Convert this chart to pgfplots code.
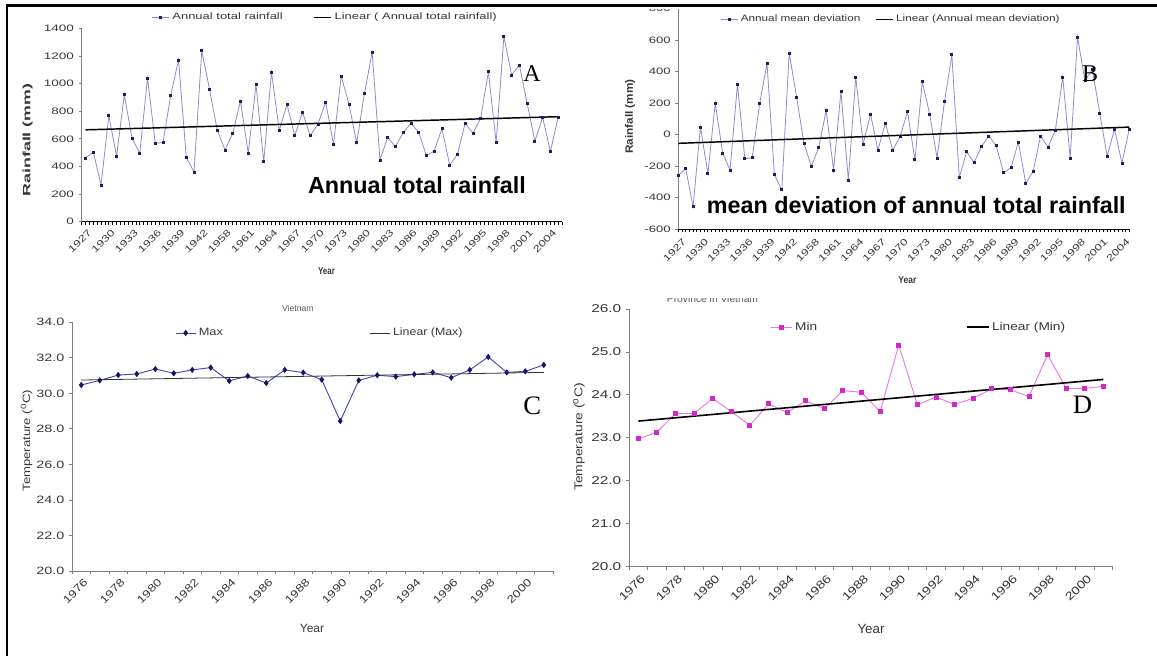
\documentclass[border=0pt]{standalone}
\usepackage{pgfplots}
\usepackage{pgfplotstable}
\pgfplotsset{compat=1.18}
\usepackage{fontspec}
\setmainfont{Liberation Sans}
\newfontfamily\seriffont{Liberation Serif}
\usepackage{graphicx}

\definecolor{lav}{RGB}{140,140,205}
\definecolor{navy}{RGB}{30,30,95}
\definecolor{cline}{RGB}{70,70,175}
\definecolor{cmark}{RGB}{20,20,110}
\definecolor{dline}{RGB}{235,120,225}
\definecolor{dmark}{RGB}{210,40,200}
\definecolor{axgray}{RGB}{128,128,128}
\definecolor{txt}{RGB}{55,55,55}

\newcommand{\fs}[1]{\fontsize{#1}{#1}\selectfont}
\newcommand{\xa}[1]{\scalebox{1.35}[1]{#1}}
\newcommand{\xc}[1]{\scalebox{1.25}[1]{#1}}

% Panel A: annual total rainfall (mm), 62 years
\pgfplotstableread[row sep=\\]{v\\461\\504\\266\\768\\473\\920\\603\\495\\1040\\567\\574\\917\\1171\\465\\360\\1238\\958\\664\\519\\640\\874\\495\\994\\433\\1084\\660\\850\\622\\792\\622\\707\\866\\560\\1055\\850\\572\\929\\1226\\447\\611\\543\\644\\712\\649\\478\\512\\673\\410\\488\\712\\640\\748\\1086\\572\\1339\\1062\\1134\\857\\584\\756\\507\\756\\}\tabA
% Panel B: mean deviation (mm)
\pgfplotstableread[row sep=\\]{v\\-259\\-216\\-454\\48\\-247\\200\\-117\\-225\\320\\-153\\-146\\197\\451\\-255\\-350\\518\\238\\-56\\-201\\-80\\154\\-225\\274\\-287\\364\\-60\\130\\-98\\72\\-98\\-13\\146\\-160\\335\\130\\-148\\209\\506\\-273\\-109\\-177\\-76\\-8\\-71\\-242\\-208\\-47\\-310\\-232\\-8\\-80\\28\\366\\-148\\619\\342\\414\\137\\-136\\36\\-180\\36\\}\tabB
% Panel C: Max temperature
\pgfplotstableread[row sep=\\]{v\\30.47\\30.73\\31.03\\31.09\\31.37\\31.13\\31.32\\31.45\\30.70\\30.98\\30.58\\31.32\\31.17\\30.77\\28.44\\30.73\\31.02\\30.94\\31.07\\31.18\\30.88\\31.32\\32.05\\31.18\\31.24\\31.60\\}\tabC
% Panel D: Min temperature
\pgfplotstableread[row sep=\\]{v\\22.98\\23.13\\23.57\\23.57\\23.92\\23.61\\23.29\\23.79\\23.59\\23.86\\23.68\\24.10\\24.06\\23.61\\25.16\\23.77\\23.95\\23.78\\23.92\\24.14\\24.12\\23.96\\24.94\\24.15\\24.15\\24.20\\}\tabD

\pgfplotsset{
  base/.style={scale only axis, anchor=south west,
    axis x line*=bottom, axis y line*=left,
    axis line style={axgray, line width=0.6pt},
    tick align=outside,
    major tick length=2.25pt, minor tick length=2.25pt,
    tick style={axgray, line width=0.6pt},
    /pgf/number format/assume math mode=true,
    ticklabel style={text=txt},
    major x tick style={draw=none},
    legend style={draw=none, fill=none, inner sep=0pt, anchor=west, text=txt},
    legend columns=2,
    legend cell align=left,
    clip=false,
  },
}

\begin{document}
\begin{tikzpicture}
\useasboundingbox (0pt,0pt) rectangle (867.75pt,492pt);

% ---------------- Panel A ----------------
\begin{axis}[base, at={(61.275pt,325.725pt)}, width=360.225pt, height=145.05pt,
  xmin=-0.5, xmax=61.5, ymin=0, ymax=1400,
  ytick={0,200,...,1400},
  yticklabel={\scalebox{1.45}[1]{\fs{7}\pgfmathprintnumber[1000 sep={}]{\tick}}},
  xtick={0,3,...,60},
  xticklabels={\xa{1927},\xa{1930},\xa{1933},\xa{1936},\xa{1939},\xa{1942},\xa{1958},\xa{1961},\xa{1964},\xa{1967},\xa{1970},\xa{1973},\xa{1980},\xa{1983},\xa{1986},\xa{1989},\xa{1992},\xa{1995},\xa{1998},\xa{2001},\xa{2004}},
  minor xtick={-0.5,0,...,61.5},
  x axis line style={black, line width=0.9pt},
  minor x tick style={black, line width=0.6pt},
  xticklabel style={rotate=45, anchor=north east, font=\fs{7}, inner sep=1pt, yshift=-2pt},
  legend style={at={(0.1457,1.057)}, font=\fs{7}, /tikz/every even column/.append style={column sep=21pt}},
  legend image code/.code={\draw[mark repeat=2,mark phase=2,#1] plot coordinates {(0pt,0pt) (6.4pt,0pt) (12.75pt,0pt)};},
]
\addplot[lav, line width=0.6pt, mark=square*, mark size=0.75pt, mark options={navy, fill=navy}] table[x expr=\coordindex, y=v] {\tabA};
\addlegendentry{\scalebox{1.39}[1]{Annual total rainfall}}
\addplot[black, line width=1.1pt] coordinates {(0,665) (61,760)};
\addlegendentry{\scalebox{1.39}[1]{Linear ( Annual total rainfall)}}
\end{axis}

% ---------------- Panel B ----------------
\begin{axis}[base, at={(508.725pt,320.025pt)}, width=338.25pt, height=165.6pt,
  xmin=0, xmax=61, ymin=-600, ymax=800,
  ytick={-600,-400,...,800},
  yticklabel={\scalebox{1.4}[1]{\fs{7}\pgfmathprintnumber{\tick}}},
  xtick={0,3,...,60},
  xticklabels={\xa{1927},\xa{1930},\xa{1933},\xa{1936},\xa{1939},\xa{1942},\xa{1958},\xa{1961},\xa{1964},\xa{1967},\xa{1970},\xa{1973},\xa{1980},\xa{1983},\xa{1986},\xa{1989},\xa{1992},\xa{1995},\xa{1998},\xa{2001},\xa{2004}},
  minor xtick={0,0.5,...,61},
  x axis line style={black, line width=0.9pt},
  minor x tick style={black, line width=0.6pt},
  xticklabel style={rotate=45, anchor=north east, font=\fs{7}, inner sep=1pt, yshift=-4pt},
  legend style={at={(0.0925,0.951)}, font=\fs{7}, /tikz/every even column/.append style={column sep=9pt}},
  legend image code/.code={\draw[mark repeat=2,mark phase=2,#1] plot coordinates {(0pt,0pt) (6.4pt,0pt) (12.75pt,0pt)};},
]
\addplot[lav, line width=0.6pt, mark=square*, mark size=0.75pt, mark options={navy, fill=navy}] table[x expr=\coordindex, y=v] {\tabB};
\addlegendentry{\scalebox{1.26}[1]{Annual mean deviation}}
\addplot[black, line width=1.1pt] coordinates {(0,-55) (61,48)};
\addlegendentry{\scalebox{1.26}[1]{Linear (Annual mean deviation)}}
\end{axis}

% ---------------- Panel C ----------------
\begin{axis}[base, at={(54pt,63.75pt)}, width=360.75pt, height=186.525pt,
  xmin=-0.5, xmax=25.5, ymin=20, ymax=34,
  ytick={20,22,...,34},
  yticklabel={\scalebox{1.35}[1]{\fs{8}\pgfmathprintnumber[fixed,fixed zerofill,precision=1]{\tick}}},
  xtick={0,2,...,24},
  xticklabels={\xc{1976},\xc{1978},\xc{1980},\xc{1982},\xc{1984},\xc{1986},\xc{1988},\xc{1990},\xc{1992},\xc{1994},\xc{1996},\xc{1998},\xc{2000}},
  minor xtick={-0.5,0.5,...,25.5},
  xticklabel style={rotate=45, anchor=north east, font=\fs{8}, inner sep=1pt, yshift=-2pt},
  legend style={at={(0.214,0.957)}, font=\fs{8}, /tikz/every even column/.append style={column sep=108pt}},
  legend image code/.code={\draw[mark repeat=2,mark phase=2,#1] plot coordinates {(0pt,0pt) (7.5pt,0pt) (15pt,0pt)};},
]
\addplot[cline, line width=0.7pt, mark=diamond*, mark size=1.8pt, mark options={cmark, fill=cmark}] table[x expr=\coordindex, y=v] {\tabC};
\addlegendentry{\scalebox{1.2}[1]{Max}}
\addplot[black!80, line width=0.6pt] coordinates {(0,30.75) (25,31.18)};
\addlegendentry{\scalebox{1.16}[1]{Linear (Max)}}
\end{axis}

% ---------------- Panel D ----------------
\begin{axis}[base, at={(471.75pt,66.975pt)}, width=362.775pt, height=193.275pt,
  xmin=-0.5, xmax=25.5, ymin=20, ymax=26,
  ytick={20,21,...,26},
  yticklabel={\scalebox{1.36}[1]{\fs{8.5}\pgfmathprintnumber[fixed,fixed zerofill,precision=1]{\tick}}},
  xtick={0,2,...,24},
  xticklabels={\xc{1976},\xc{1978},\xc{1980},\xc{1982},\xc{1984},\xc{1986},\xc{1988},\xc{1990},\xc{1992},\xc{1994},\xc{1996},\xc{1998},\xc{2000}},
  minor xtick={-0.5,0.5,...,25.5},
  xticklabel style={rotate=45, anchor=north east, font=\fs{8.5}, inner sep=1pt, yshift=-2pt, text=black!80},
  legend style={at={(0.2915,0.929)}, font=\fs{8.5}, /tikz/every even column/.append style={column sep=110pt}},
  legend image code/.code={\draw[mark repeat=2,mark phase=2,#1] plot coordinates {(0pt,0pt) (8pt,0pt) (16pt,0pt)};},
]
\addplot[dline, line width=0.7pt, mark=square*, mark size=1.5pt, mark options={dmark, fill=dmark}] table[x expr=\coordindex, y=v] {\tabD};
\addlegendentry{\scalebox{1.2}[1]{Min}}
\addplot[black, line width=1.2pt] coordinates {(0,23.39) (25,24.36)};
\addlegendentry{\scalebox{1.21}[1]{Linear (Min)}}
\end{axis}

% ---------------- Texts ----------------
\node[anchor=base west, inner sep=0pt, font=\bfseries\fs{17.5}] at (230.8pt,347.0pt) {Annual total rainfall};
\node[anchor=base west, inner sep=0pt, font=\seriffont\fs{18}] at (392.25pt,430.5pt) {A};
\node[rotate=90, inner sep=0pt, font=\bfseries\fs{8}, text=txt] at (20.8pt,387pt) {\scalebox{1.67}[1]{Rainfall (mm)}};
\node[inner sep=0pt, font=\bfseries\fs{7.5}, text=txt] at (244.9pt,289pt) {\scalebox{0.8}[1]{Year}};

\node[anchor=base west, inner sep=0pt, font=\bfseries\fs{17.5}] at (530.0pt,332.0pt) {mean deviation of annual total rainfall};
\node[anchor=base west, inner sep=0pt, font=\seriffont\fs{18}] at (811.3pt,430.5pt) {B};
\node[rotate=90, inner sep=0pt, font=\bfseries\fs{8}, text=txt] at (472.5pt,404.6pt) {\scalebox{1.1}[1]{Rainfall (mm)}};
\node[inner sep=0pt, font=\bfseries\fs{7.5}, text=txt] at (680.6pt,282pt) {\scalebox{0.85}[1]{Year}};

\node[rotate=90, inner sep=0pt, font=\fs{8}, text=txt] at (20pt,161.5pt) {\scalebox{1.23}[1]{Temperature (\textsuperscript{0}C)}};
\node[inner sep=0pt, font=\fs{9}, text=txt] at (234pt,21pt) {Year};
\node[anchor=base west, inner sep=0pt, font=\seriffont\fs{20}] at (392.25pt,181.3pt) {C};

\node[rotate=90, inner sep=0pt, font=\fs{8.5}, text=txt] at (434.25pt,164.25pt) {\scalebox{1.23}[1]{Temperature (\textsuperscript{0}C)}};
\node[inner sep=0pt, font=\fs{10}, text=txt] at (653.25pt,20.25pt) {Year};
\node[anchor=base west, inner sep=0pt, font=\seriffont\fs{20}] at (804.5pt,181.5pt) {D};

% clipped titles
\begin{scope}
\clip (150pt,200pt) rectangle (300pt,262.5pt);
\node[anchor=base west, inner sep=0pt, font=\fs{6.5}, text=black!65] at (211.3pt,258.2pt) {Vietnam};
\end{scope}
\begin{scope}
\clip (450pt,200pt) rectangle (650pt,268.1pt);
\node[anchor=base west, inner sep=0pt, font=\fs{7.7}, text=black!65] at (500pt,264.75pt) {Province in Vietnam};
\end{scope}

% frame
\fill[white] (6pt,484.9pt) rectangle (867.75pt,492pt);
\draw[black, line width=2pt] (5.25pt,0pt) -- (5.25pt,488pt) -- (867.75pt,488pt);
\end{tikzpicture}
\end{document}
